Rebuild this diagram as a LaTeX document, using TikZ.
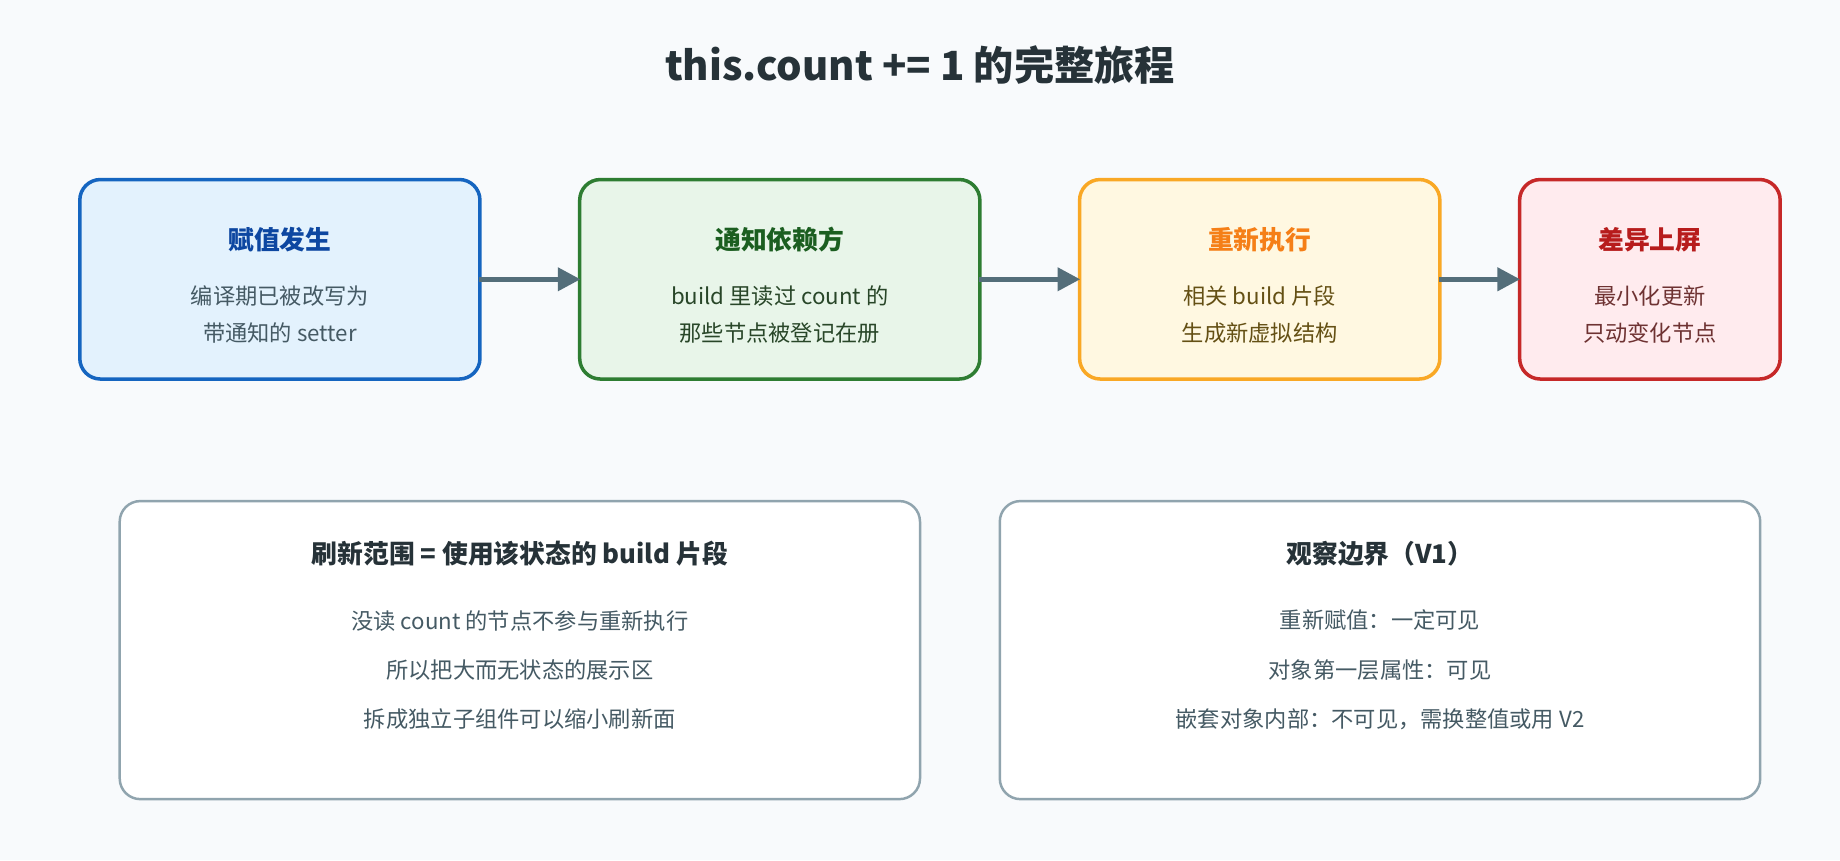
\documentclass[tikz,border=0pt]{standalone}
\usepackage{fontspec}
\setmainfont{Noto Sans CJK SC}
\usetikzlibrary{arrows.meta}
\definecolor{bg}{HTML}{F8FAFC}
\definecolor{arr}{HTML}{546E7A}
\definecolor{gb}{HTML}{90A4AE}
\definecolor{txt}{HTML}{263238}
\definecolor{body}{HTML}{455A64}
\begin{document}
\begin{tikzpicture}[x=0.02cm,y=-0.02cm,
 stepbox/.style={draw, line width=1.7pt, rounded corners=10pt},
 ttl/.style={font=\fontsize{12.5}{15}\selectfont\bfseries},
 bd/.style={font=\fontsize{10.8}{13}\selectfont, align=center},
 arrow/.style={draw=arr, line width=2.4pt, -{Triangle[length=11pt,width=11pt]}},
 holder/.style={inner sep=0pt, outer sep=0pt, minimum height=96pt},
 panel/.style={draw=gb, fill=white, line width=1.2pt, rounded corners=10pt}]
\fill[bg] (0,0) rectangle (1568,733);
\node[font=\fontsize{19.5}{23}\selectfont\bfseries, text=txt] (title) at (784,55) {this.count += 1 的完整旅程};
% steps
\draw[stepbox, draw={rgb,255:red,21;green,101;blue,192}, fill={rgb,255:red,227;green,242;blue,253}] (68,153) rectangle (409,323);
\node[holder, minimum width=193.3pt] (b1) at (238.5,238) {};
\node[ttl, text={rgb,255:red,13;green,71;blue,161}] (t1) at (238.5,204) {赋值发生};
\node[bd, text=body] (d1) at (238.5,268) {编译期已被改写为\\[5pt]带通知的 setter};

\draw[stepbox, draw={rgb,255:red,46;green,125;blue,50}, fill={rgb,255:red,232;green,245;blue,233}] (494,153) rectangle (835,323);
\node[holder, minimum width=193.3pt] (b2) at (664.5,238) {};
\node[ttl, text={rgb,255:red,27;green,94;blue,32}] (t2) at (664.5,204) {通知依赖方};
\node[bd, text={rgb,255:red,40;green,70;blue,40}] (d2) at (664.5,268) {build 里读过 count 的\\[5pt]那些节点被登记在册};

\draw[stepbox, draw={rgb,255:red,249;green,168;blue,37}, fill={rgb,255:red,255;green,248;blue,225}] (920,153) rectangle (1227,323);
\node[holder, minimum width=174.1pt] (b3) at (1073.5,238) {};
\node[ttl, text={rgb,255:red,245;green,127;blue,23}] (t3) at (1073.5,204) {重新执行};
\node[bd, text={rgb,255:red,100;green,80;blue,20}] (d3) at (1073.5,268) {相关 build 片段\\[5pt]生成新虚拟结构};

\draw[stepbox, draw={rgb,255:red,198;green,40;blue,40}, fill={rgb,255:red,255;green,235;blue,238}] (1295,153) rectangle (1517,323);
\node[holder, minimum width=125.9pt] (b4) at (1406,238) {};
\node[ttl, text={rgb,255:red,183;green,28;blue,28}] (t4) at (1406,204) {差异上屏};
\node[bd, text={rgb,255:red,110;green,50;blue,50}] (d4) at (1406,268) {最小化更新\\[5pt]只动变化节点};

\draw[arrow] (b1.east) -- (b2.west);
\draw[arrow] (b2.east) -- (b3.west);
\draw[arrow] (b3.east) -- (b4.west);

% panels
\draw[panel] (102,427) rectangle (784,681);
\node[ttl, text=txt] (p1) at (443,472) {刷新范围 = 使用该状态的 build 片段};
\node[bd, text=body] (q1) at (443,571) {没读 count 的节点不参与重新执行\\[11pt]所以把大而无状态的展示区\\[11pt]拆成独立子组件可以缩小刷新面};
\draw[panel] (852,427) rectangle (1500,681);
\node[ttl, text=txt] (p2) at (1176,472) {观察边界（V1）};
\node[bd, text=body] (q2) at (1176,571) {重新赋值：一定可见\\[11pt]对象第一层属性：可见\\[11pt]嵌套对象内部：不可见，需换整值或用 V2};
\end{tikzpicture}
\end{document}
